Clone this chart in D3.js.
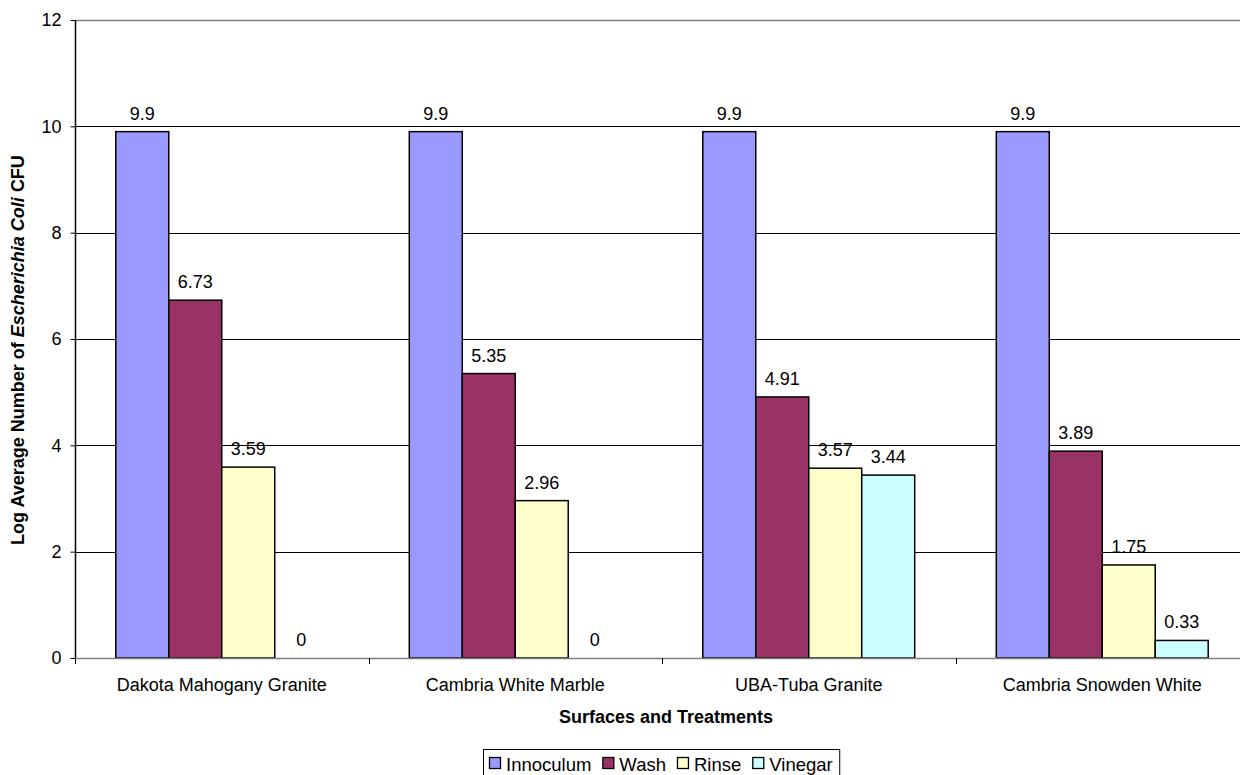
<!DOCTYPE html>
<html><head><meta charset="utf-8">
<script src="https://cdn.jsdelivr.net/npm/d3@7"></script>
<style>
body{margin:0;background:#fff;}
svg{display:block;font-family:"Liberation Sans",Arial,sans-serif;}
</style></head>
<body><svg id="c" width="1240" height="775"></svg>
<script>
const categories = ["Dakota Mahogany Granite","Cambria White Marble","UBA-Tuba Granite","Cambria Snowden White"];
const seriesNames = ["Innoculum","Wash","Rinse","Vinegar"];
const innoculum = [9.9, 9.9, 9.9, 9.9];
const wash = [6.73, 5.35, 4.91, 3.89];
const rinse = [3.59, 2.96, 3.57, 1.75];
const vinegar = [0, 0, 3.44, 0.33];
const colors = ["#9999FF","#993366","#FFFFCC","#CCFFFF"];
const yTicks = [0,2,4,6,8,10,12];

const seriesValues = [innoculum, wash, rinse, vinegar];
const FS = 18;
const svg = d3.select("#c");
const L = 75, R = 1249, T = 20, B = 658;
const x0 = d3.scaleBand().domain(categories).range([L, R]).paddingInner(0).paddingOuter(0);
const x1 = d3.scaleBand().domain(seriesNames).range([0, x0.bandwidth()]).paddingInner(0).paddingOuter(0.77);
const y = d3.scaleLinear().domain([0, 12]).range([B, T]);

// plot border (top)
svg.append("line").attr("x1",L).attr("x2",R).attr("y1",T+0.5).attr("y2",T+0.5).attr("stroke","#808080").attr("stroke-width",1.5);
// gridlines
svg.append("g").selectAll("line").data(yTicks.filter(d=>d>0 && d<12)).join("line")
  .attr("x1",L).attr("x2",R).attr("y1",d=>Math.round(y(d))+0.5).attr("y2",d=>Math.round(y(d))+0.5)
  .attr("stroke","#000").attr("stroke-width",1);

// bars
const g = svg.append("g");
categories.forEach((c,ci)=>{
  seriesNames.forEach((s,si)=>{
    const v = seriesValues[si][ci];
    const bx = x0(c)+x1(s);
    if (v>0) {
      g.append("rect").attr("x",bx).attr("y",y(v)).attr("width",x1.bandwidth()).attr("height",y(0)-y(v))
        .attr("fill",colors[si]).attr("stroke","#000").attr("stroke-width",1.5);
    }
    g.append("text").attr("x",bx+x1.bandwidth()/2).attr("y",y(v)-12).attr("text-anchor","middle")
      .attr("font-size",FS).attr("fill","#000").text(v);
  });
});

// y axis
const ya = svg.append("g").attr("transform",`translate(${L+0.5},0)`)
  .call(d3.axisLeft(y).tickValues(yTicks).tickSize(5).tickPadding(9).tickFormat(d3.format("d")));
ya.select(".domain").attr("stroke","#000").attr("stroke-width",1.5).attr("d",`M0,${T}V${B}`);
ya.selectAll(".tick line").attr("stroke","#000");
ya.selectAll("text").attr("font-size",FS).attr("font-family","Liberation Sans, Arial, sans-serif").attr("fill","#000");

// x axis
const xa = svg.append("g").attr("transform",`translate(0,${B+0.5})`)
  .call(d3.axisBottom(x0).tickSize(0).tickPadding(20));
xa.select(".domain").attr("stroke","#808080").attr("stroke-width",1.5).attr("d",`M${L},0H${R}`);
xa.selectAll("text").attr("font-size",FS).attr("font-family","Liberation Sans, Arial, sans-serif").attr("fill","#000");
svg.append("g").selectAll("line").data(categories.slice(1)).join("line")
  .attr("x1",d=>Math.round(x0(d))+0.5).attr("x2",d=>Math.round(x0(d))+0.5).attr("y1",B).attr("y2",B+6).attr("stroke","#000");
svg.append("line").attr("x1",L+0.5).attr("x2",L+0.5).attr("y1",B).attr("y2",B+6).attr("stroke","#000");

// axis titles
svg.append("text").attr("x",666).attr("y",723).attr("text-anchor","middle")
  .attr("font-size",FS).attr("font-weight","bold").text("Surfaces and Treatments");
const yt = svg.append("text").attr("transform","translate(24,350) rotate(-90)").attr("text-anchor","middle")
  .attr("font-size",FS).attr("font-weight","bold");
yt.append("tspan").text("Log Average Number of ");
yt.append("tspan").attr("font-style","italic").text("Escherichia Coli");
yt.append("tspan").text(" CFU");

// legend
const lg = svg.append("g");
const box = lg.append("rect").attr("x",483.5).attr("y",749.5).attr("height",30).attr("fill","#fff").attr("stroke","#000");
const items = lg.selectAll("g").data(seriesNames).join("g");
let cx = 489;
items.each(function(d,i){
  const it = d3.select(this);
  it.append("rect").attr("x",cx+0.5).attr("y",757.5).attr("width",11).attr("height",11).attr("fill",colors[i]).attr("stroke","#000").attr("stroke-width",1.3);
  const t = it.append("text").attr("x",cx+17).attr("y",771).attr("font-size",18.5).text(d);
  cx += 17 + t.node().getComputedTextLength() + 11;
});
box.attr("width", cx - 483.5 - 4);
</script></body></html>
